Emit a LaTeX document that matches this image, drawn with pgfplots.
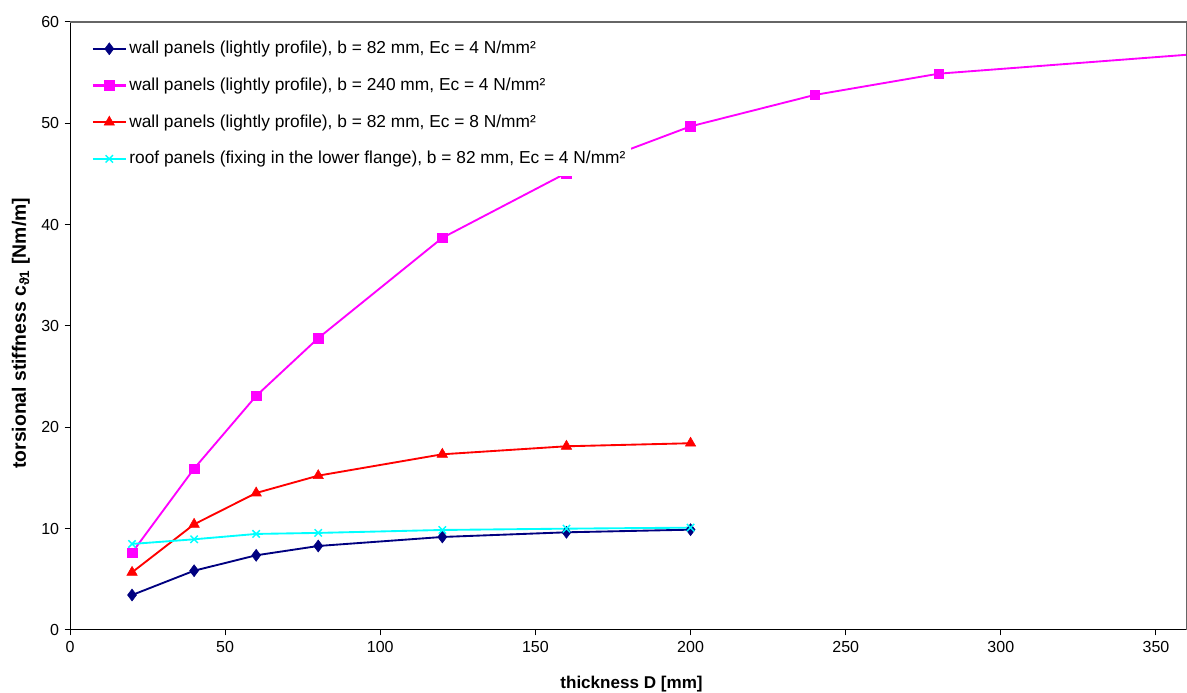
\documentclass[border=0pt]{standalone}
\usepackage{pgfplots}
\pgfplotsset{compat=1.18}
\usepackage{fontspec}
\setmainfont{Liberation Sans}
\definecolor{cnavy}{RGB}{0,0,128}
\definecolor{cmag}{RGB}{255,0,255}
\definecolor{cred}{RGB}{255,0,0}
\definecolor{ccyan}{RGB}{0,255,255}
\begin{document}
\fontsize{12pt}{14pt}\selectfont
\begin{tikzpicture}
\begin{axis}[name=ax, scale only axis, width=837.75pt, height=456pt,
  xmin=0, xmax=360, ymin=0, ymax=60,
  xtick={0,50,...,350}, ytick={0,10,...,60},
  axis lines=left,
  tick align=outside, major tick length=4pt,
  /pgf/number format/assume math mode=true,
  ticklabel style={font=\fontsize{12pt}{14pt}\selectfont},
  axis line style={black, line width=0.75pt, -},
  tick style={black, line width=0.75pt},
  xlabel={\textbf{thickness D [mm]}},
  ylabel={\textbf{torsional stiffness c\textsubscript{\bfseries ϑ1} [Nm/m]}},
  xlabel style={at={(axis description cs:0.5027,-0.0888)}, anchor=center, font=\fontsize{12.8pt}{15pt}\selectfont},
  ylabel style={at={(axis description cs:-0.0440,0.488)}, anchor=center, font=\fontsize{14.5pt}{16pt}\selectfont},
  clip=true,
  legend cell align=left,
  legend style={at={(axis description cs:0.017,0.984)}, anchor=north west, draw=none, fill=white,
    font=\fontsize{13pt}{15pt}\selectfont, row sep=12.3pt, inner xsep=2pt, inner ysep=5pt},
  legend image code/.code={\draw[line width=1.6pt, mark repeat=2,mark phase=2] plot coordinates {(0cm,0cm) (0.43cm,0cm) (0.86cm,0cm)};},
]
\addplot[color=cnavy, line width=1.4pt, mark=diamond*, mark size=4.5pt, mark options={solid, line width=0.4pt}] coordinates {
 (20,3.45) (40,5.85) (60,7.37) (80,8.29) (120,9.18) (160,9.64) (200,9.9)};
\addlegendentry{wall panels (lightly profile), b = 82 mm, Ec = 4 N/mm²}
\addplot[color=cmag, line width=1.4pt, mark=square*, mark size=3.6pt, mark options={solid, line width=0.4pt}] coordinates {
 (20,7.63) (40,15.93) (60,23.1) (80,28.8) (120,38.7) (160,45.1) (200,49.7) (240,52.8) (280,54.9) (400,57.7)};
\addlegendentry{wall panels (lightly profile), b = 240 mm, Ec = 4 N/mm²}
\addplot[color=cred, line width=1.4pt, mark=triangle*, mark size=4.5pt, mark options={solid, line width=0.4pt}] coordinates {
 (20,5.69) (40,10.43) (60,13.52) (80,15.23) (120,17.34) (160,18.13) (200,18.43)};
\addlegendentry{wall panels (lightly profile), b = 82 mm, Ec = 8 N/mm²}
\addplot[color=ccyan, line width=1.4pt, mark=x, mark size=3.9pt, mark options={solid, line width=1.1pt}] coordinates {
 (20,8.49) (40,8.95) (60,9.48) (80,9.58) (120,9.87) (160,10.0) (200,10.1)};
\addlegendentry{roof panels (fixing in the lower flange), b = 82 mm, Ec = 4 N/mm²}
\draw[color=black!60, line width=1.6pt] (rel axis cs:0,1) -- (rel axis cs:1,1) -- (rel axis cs:1,0);
\end{axis}
\pgfresetboundingbox
\path ([shift={(-52.5pt,-47.25pt)}]ax.south west) rectangle ([shift={(0pt,16.5pt)}]ax.north east);
\end{tikzpicture}
\end{document}
